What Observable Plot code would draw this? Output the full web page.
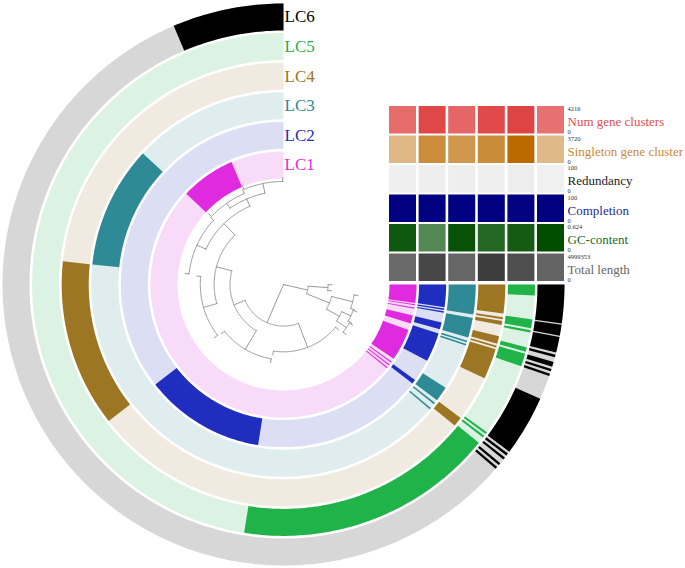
<!DOCTYPE html>
<html><head><meta charset="utf-8">
<script src="https://cdn.jsdelivr.net/npm/d3@7"></script>
<script src="https://cdn.jsdelivr.net/npm/@observablehq/plot@0.6"></script>
<style>body{margin:0;background:#fff} #chart{width:685px;height:568px}</style>
</head><body><div id="chart"></div>
<script>
// ---------------- data ----------------
const nLeaves = 1080;                      // leaves laid over a 270° arc
const layers = ["LC1","LC2","LC3","LC4","LC5","LC6"];
const layerColors = ["#e02ae0","#1f2ebf","#2e8a94","#9d7624","#1fb34a","#000000"];
const layerBg     = ["#f8dbf8","#dcdff4","#dfedef","#f0eae0","#dcf2e3","#d7d7d7"];
// leaf index ranges [start, end) where each layer is present
const lc1 = [[92,188],[924,926],[930,932],[936,938],[944,1000],[1012,1026],[1038,1040],[1044,1046],[1048,1080]];
const lc2 = [[512,684],[930,936],[968,1010],[1016,1026],[1040,1042],[1044,1046],[1048,1080]];
const lc3 = [[188,336],[918,920],[926,928],[932,950],[1006,1008],[1010,1012],[1016,1040],[1044,1080]];
const lc4 = [[336,512],[922,932],[980,1012],[1014,1016],[1018,1026],[1038,1042],[1044,1046],[1050,1080]];
const lc5 = [[684,924],[930,932],[934,936],[1004,1016],[1018,1022],[1036,1038],[1040,1048],[1070,1080]];
const lc6 = [[0,92],[916,918],[920,922],[926,928],[930,932],[934,984],[1004,1006],[1008,1010],[1012,1016],[1020,1022],[1024,1037],[1038,1047],[1048,1080]];
const layerRuns = [lc1, lc2, lc3, lc4, lc5, lc6];

// heatmap (one value per layer, LC1..LC6)
const metrics = ["Num gene clusters","Singleton gene cluster","Redundancy","Completion","GC-content","Total length"];
const metricMax = [4216, 3720, 100, 100, 0.624, 4999353];
const metricMaxLabel = ["4216","3720","100","100","0.624","4999353"];
const metricColors = ["#df4444","#bb6a00","#000000","#000080","#004d00","#3c3c3c"];
const metricText = ["#e05050","#c98a35","#222222","#1f1f99","#1d6b1d","#666666"];
const numGeneClusters = [3340, 4130, 3450, 4080, 4216, 3225];
const singletonGC     = [1790, 2860, 2570, 2870, 3720, 1750];
const redundancy      = [6.2, 6.6, 6.6, 6.2, 7.0, 5.8];
const completion      = [99.5, 100, 99.5, 100, 99, 100];
const gcContent       = [0.587, 0.421, 0.605, 0.537, 0.574, 0.624];
const totalLength     = [3820000, 4720000, 3920000, 4999353, 4540000, 3970000];
const metricValues = [numGeneClusters, singletonGC, redundancy, completion, gcContent, totalLength];

// dendrogram: branch lengths, terminal clades hold leaf ranges
const tree = {len:0, children:[
  {len:42, children:[
    {len:26, leaves:[684,924]},
    {len:12, children:[
      {len:22, leaves:[512,684]},
      {len:16, children:[
        {len:14, leaves:[336,512]},
        {len:16, children:[
          {len:10, leaves:[188,336]},
          {len:8, children:[
            {len:6, leaves:[92,188]},
            {len:10, leaves:[0,92]}
          ]}
        ]}
      ]}
    ]}
  ]},
  {len:25, children:[
    {len:20, leaves:[1048,1080]},
    {len:25, children:[
      {len:22, leaves:[1000,1048]},
      {len:15, children:[
        {len:10, leaves:[960,1000]},
        {len:12, leaves:[924,960]}
      ]}
    ]}
  ]}
]};

// ---------------- geometry helpers ----------------
const R0 = 106, ringStep = 29.6, ringWidth = 27;
const ringInner = i => R0 + ringStep * i;
const degPerLeaf = 270 / nLeaves;
function pt(r, deg){ const t = deg * Math.PI / 180; return [-r * Math.sin(t), r * Math.cos(t)]; }
function sector(id, r1, r2, d1, d2){
  const n = Math.max(2, Math.ceil(Math.abs(d2 - d1) / 0.8) + 1), pts = [];
  for (let k = 0; k < n; k++){ const d = d1 + (d2 - d1) * k / (n - 1); const [x,y] = pt(r2, d); pts.push({id, x, y}); }
  for (let k = n - 1; k >= 0; k--){ const d = d1 + (d2 - d1) * k / (n - 1); const [x,y] = pt(r1, d); pts.push({id, x, y}); }
  return pts;
}
function arc(id, r, d1, d2){
  const n = Math.max(2, Math.ceil(Math.abs(d2 - d1) / 0.8) + 1), pts = [];
  for (let k = 0; k < n; k++){ const d = d1 + (d2 - d1) * k / (n - 1); const [x,y] = pt(r, d); pts.push({id, x, y}); }
  return pts;
}

// rings
const marks = [];
layers.forEach((name, i) => {
  const r1 = ringInner(i), r2 = r1 + ringWidth;
  marks.push(Plot.line(sector(name + "bg", r1, r2, 0, 270), {x:"x", y:"y", z:"id", fill: layerBg[i], stroke:"none"}));
  const fg = layerRuns[i].flatMap(([a,b], j) => sector(name + j, r1, r2, a * degPerLeaf, b * degPerLeaf));
  marks.push(Plot.line(fg, {x:"x", y:"y", z:"id", fill: layerColors[i], stroke:"none"}));
});

// tree layout
let maxDepth = 0;
function layout(node, depth){
  node.depth = depth; maxDepth = Math.max(maxDepth, depth);
  if (node.leaves) node.angle = (node.leaves[0] + node.leaves[1]) / 2 * degPerLeaf;
  else {
    node.children.forEach(c => layout(c, depth + c.len));
    node.angle = (node.children[0].angle + node.children[node.children.length - 1].angle) / 2;
  }
}
layout(tree, 0);
const rTree = d3.scaleLinear().domain([0, maxDepth]).range([0, 103]);
const treePaths = []; let pid = 0;
function drawTree(node){
  const r = rTree(node.depth);
  if (node.leaves){
    const a = node.leaves[0] * degPerLeaf + 0.4, b = node.leaves[1] * degPerLeaf - 0.4;
    treePaths.push(...arc("t" + pid++, r, a, b));
    const [x1,y1] = pt(r, a), [x2,y2] = pt(r + 4, a);
    treePaths.push({id:"t" + pid, x:x1, y:y1}, {id:"t" + pid++, x:x2, y:y2});
    const [x3,y3] = pt(r, b), [x4,y4] = pt(r + 4, b);
    treePaths.push({id:"t" + pid, x:x3, y:y3}, {id:"t" + pid++, x:x4, y:y4});
    return;
  }
  const angs = node.children.map(c => c.angle);
  if (r > 0) treePaths.push(...arc("t" + pid++, r, Math.min(...angs), Math.max(...angs)));
  node.children.forEach(c => {
    const [x1,y1] = pt(r, c.angle), [x2,y2] = pt(rTree(c.depth), c.angle);
    treePaths.push({id:"t" + pid, x:x1, y:y1}, {id:"t" + pid++, x:x2, y:y2});
    drawTree(c);
  });
}
drawTree(tree);
marks.push(Plot.line(treePaths, {x:"x", y:"y", z:"id", stroke:"#8e8e8e", strokeWidth:0.9}));

// heatmap
const rowStep = 29.5, rowH = 27.5;
const cells = [];
metrics.forEach((m, k) => {
  const row = metrics.length - 1 - k;      // Total length sits at the bottom
  const y1 = 3 + rowStep * row;
  const interp = d3.interpolateRgb("#ffffff", metricColors[k]);
  metricValues[k].forEach((v, i) => {
    cells.push({x1: ringInner(i), x2: ringInner(i) + ringWidth, y1, y2: y1 + rowH, color: interp(v / metricMax[k])});
  });
});
marks.push(Plot.rect(cells, {x1:"x1", x2:"x2", y1:"y1", y2:"y2", fill:"color"}));

const labelX = ringInner(5) + ringWidth + 3;
const metricLabels = metrics.map((m, k) => {
  const row = metrics.length - 1 - k, y1 = 3 + rowStep * row;
  return {m, k, top: y1 + rowH, bottom: y1, mid: y1 + rowH / 2 - 2};
});
const serif = "'Liberation Serif','Times New Roman',Times,serif";
marks.push(Plot.text(metricLabels, {x: labelX, y:"mid", text:"m", fill: d => metricText[d.k], textAnchor:"start", fontSize:13, fontFamily: serif}));
marks.push(Plot.text(metricLabels, {x: labelX, y:"top", text: d => metricMaxLabel[d.k], textAnchor:"start", lineAnchor:"top", fontSize:6.5, fill:"#333", fontFamily: serif}));
marks.push(Plot.text(metricLabels, {x: labelX, y:"bottom", text: () => "0", textAnchor:"start", lineAnchor:"bottom", fontSize:6.5, fill:"#333", fontFamily: serif}));

// layer labels
marks.push(Plot.text(layers, {x: 1, y: (d, i) => ringInner(i) + ringWidth / 2, text: d => d, fill: (d, i) => layerColors[i], textAnchor:"start", fontSize:17, fontFamily: serif}));

const chart = Plot.plot({
  width: 685, height: 568,
  margin: 0,
  x: {domain: [-283, 402], axis: null},
  y: {domain: [-284, 284], axis: null},
  color: {type: "identity"},
  marks
});
document.getElementById("chart").appendChild(chart);
</script>
</body></html>
